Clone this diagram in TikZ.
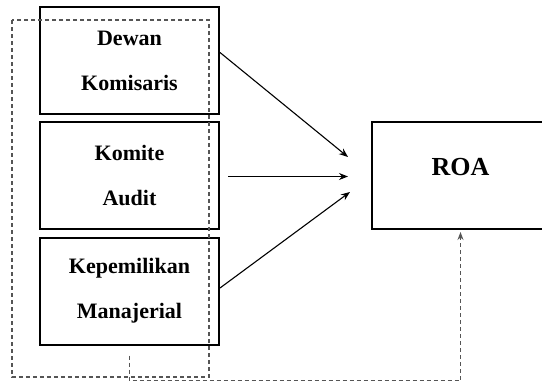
\documentclass[tikz,border=0pt]{standalone}
\usepackage{fontspec}
\usepackage{tikz}
\usetikzlibrary{arrows.meta}
\newfontfamily\labelfont{Liberation Serif}

\begin{document}
\begin{tikzpicture}[x=1pt,y=-1pt,
  varbox/.style={draw,line width=2pt,minimum width=179pt,minimum height=107pt,
    align=center,inner sep=0pt,font=\labelfont\bfseries\fontsize{22}{45}\selectfont},
  roabox/.style={draw,line width=2pt,minimum width=177pt,minimum height=107pt,
    inner sep=0pt,text height=17pt,text depth=17pt,font=\labelfont\bfseries\fontsize{26}{30}\selectfont},
  effect/.style={line width=1.1pt,-{Stealth[length=9pt,width=7pt]}},
  frame/.style={draw=linegray,line width=1.2pt,dash pattern=on 4pt off 3pt}]
% Define colours
\definecolor{linegray}{RGB}{85,85,85}
\useasboundingbox (0,0) rectangle (542,383);

% Draw variable boxes
\node[varbox] (dewan) at (129.5,60.5) {Dewan\\Komisaris};
\node[varbox] (komite) at (129.5,175.5) {Komite\\Audit};
\node[varbox] (kepemilikan) at (129.5,291) {Kepemilikan\\Manajerial};

% Draw dependent variable
\node[roabox] (roa) at (460.5,175.5) {ROA};

% Draw grouping frame
\draw[frame] (12,20) rectangle (209,377);

% Add effect arrows
\coordinate (in1) at (348,157);
\coordinate (in2) at (348,176.5);
\coordinate (in3) at (350,192);
\draw[effect] ([yshift=8pt]dewan.east) -- (in1);
\draw[effect,shorten <=8pt] ([yshift=-1pt]komite.east) -- (in2);
\draw[effect] ([yshift=3pt]kepemilikan.east) -- (in3);

% Add simultaneous effect
\draw[frame,-{Stealth[length=8pt,width=6pt]},shorten <=10pt,shorten >=2pt]
  (kepemilikan.south) -- ++(0,35) -| (roa.south);
\end{tikzpicture}
\end{document}
